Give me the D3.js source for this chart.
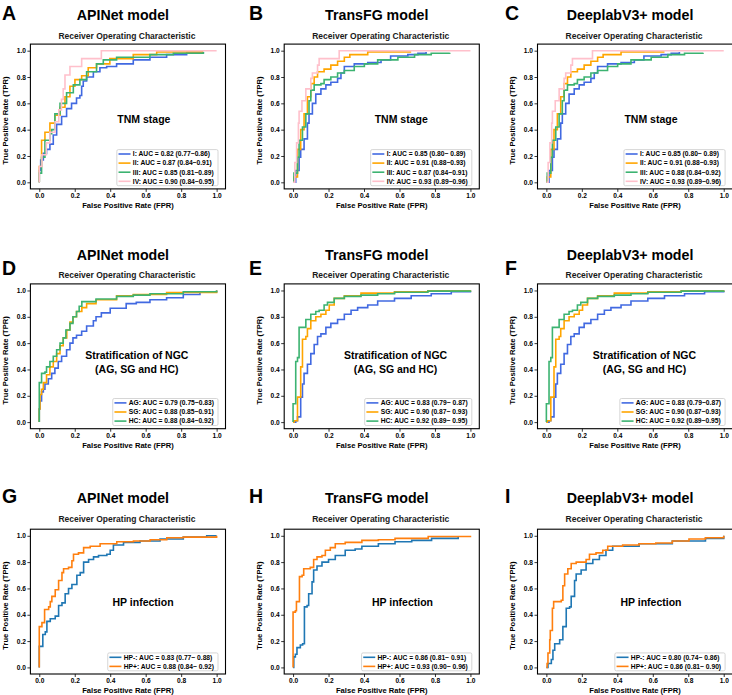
<!DOCTYPE html>
<html>
	<head>
		<meta charset="utf-8">
		<title>ROC curves of the three models</title>
		<script src="https://d3js.org/d3.v7.min.js"></script>
		<style>
			body { margin: 0; background: #ffffff; }
			svg { display: block; }
		</style>
	</head>
	<body>
		<svg id="fig" width="732" height="695"></svg>
		<script>
			/* data: [FPR, TPR] corner points of each ROC curve */

			// row 1 - TNM stage
			var rocA_I = [[0,0],[0,0.09],[0.008,0.17],[0.023,0.22],[0.041,0.25],[0.06,0.29],[0.079,0.36],[0.098,0.44],[0.126,0.50],[0.154,0.56],[0.182,0.60],[0.21,0.64],[0.229,0.66],[0.239,0.73],[0.248,0.77],[0.267,0.80],[0.305,0.84],[0.342,0.87],[0.38,0.88],[0.436,0.90],[0.53,0.93],[0.624,0.95],[0.718,0.97],[0.831,0.985],[0.925,0.99]];
			var rocA_II = [[0,0],[0,0.12],[0.013,0.32],[0.032,0.38],[0.06,0.45],[0.088,0.51],[0.117,0.57],[0.145,0.65],[0.173,0.73],[0.201,0.78],[0.239,0.81],[0.276,0.87],[0.323,0.90],[0.398,0.94],[0.53,0.97],[0.662,0.99],[0.925,0.99]];
			var rocA_III = [[0,0],[0,0.07],[0.013,0.19],[0.032,0.32],[0.06,0.37],[0.07,0.40],[0.088,0.52],[0.117,0.60],[0.154,0.68],[0.192,0.74],[0.229,0.78],[0.267,0.84],[0.323,0.90],[0.361,0.93],[0.436,0.95],[0.624,0.97],[0.756,0.98],[0.925,0.99]];
			var rocA_IV = [[0,0],[0,0.12],[0.015,0.21],[0.04,0.30],[0.06,0.38],[0.089,0.46],[0.11,0.55],[0.125,0.63],[0.135,0.71],[0.145,0.815],[0.173,0.88],[0.239,0.94],[0.35,1],[1,1]];

			var rocB_I = [[0,0],[0.015,0.09],[0.034,0.19],[0.043,0.25],[0.062,0.33],[0.081,0.45],[0.09,0.52],[0.109,0.60],[0.128,0.67],[0.157,0.71],[0.185,0.74],[0.213,0.76],[0.251,0.79],[0.27,0.83],[0.289,0.88],[0.345,0.90],[0.421,0.91],[0.496,0.93],[0.55,0.96],[0.647,0.97],[0.704,0.98],[0.75,0.99]];
			var rocB_II = [[0,0],[0.005,0.04],[0.025,0.25],[0.043,0.40],[0.062,0.52],[0.081,0.65],[0.1,0.75],[0.119,0.80],[0.138,0.84],[0.175,0.86],[0.213,0.89],[0.251,0.92],[0.289,0.95],[0.32,0.97],[0.421,0.99],[0.666,0.99]];
			var rocB_III = [[0,0],[0.005,0.07],[0.025,0.19],[0.034,0.32],[0.053,0.42],[0.072,0.52],[0.09,0.62],[0.1,0.70],[0.119,0.74],[0.157,0.75],[0.175,0.78],[0.213,0.80],[0.251,0.83],[0.289,0.85],[0.345,0.88],[0.402,0.90],[0.477,0.93],[0.591,0.95],[0.685,0.97],[0.779,0.98],[0.883,0.985]];
			var rocB_IV = [[0,0],[0.01,0.15],[0.02,0.30],[0.03,0.45],[0.034,0.54],[0.05,0.62],[0.072,0.71],[0.1,0.79],[0.109,0.83],[0.138,0.89],[0.147,0.94],[0.26,1],[1,1]];

			// row 2 - stratification of NGC
			var rocD_AG = [[0,0],[0,0.10],[0.004,0.16],[0.013,0.23],[0.023,0.25],[0.032,0.29],[0.051,0.33],[0.07,0.37],[0.088,0.41],[0.107,0.46],[0.126,0.50],[0.154,0.55],[0.173,0.60],[0.19,0.64],[0.21,0.66],[0.239,0.69],[0.267,0.73],[0.305,0.77],[0.32,0.80],[0.35,0.83],[0.40,0.865],[0.49,0.90],[0.547,0.91],[0.624,0.93],[0.718,0.945],[0.812,0.97],[0.906,0.99],[1,1]];
			var rocD_SG = [[0,0],[0,0.10],[0.004,0.21],[0.013,0.25],[0.023,0.30],[0.041,0.36],[0.06,0.42],[0.079,0.46],[0.098,0.52],[0.117,0.58],[0.135,0.64],[0.155,0.70],[0.173,0.76],[0.19,0.80],[0.21,0.84],[0.24,0.87],[0.267,0.90],[0.32,0.93],[0.436,0.96],[0.53,0.97],[0.718,0.985],[1,1]];
			var rocD_HC = [[0,0],[0,0.18],[0,0.30],[0.013,0.37],[0.032,0.38],[0.041,0.42],[0.06,0.46],[0.079,0.50],[0.098,0.55],[0.117,0.60],[0.135,0.64],[0.15,0.70],[0.173,0.75],[0.19,0.80],[0.21,0.84],[0.225,0.88],[0.24,0.915],[0.32,0.935],[0.436,0.955],[0.53,0.965],[0.624,0.975],[0.812,0.99],[1,1]];

			var rocE_AG = [[0,0],[0.015,0.01],[0.025,0.04],[0.043,0.19],[0.053,0.29],[0.062,0.37],[0.081,0.44],[0.1,0.52],[0.119,0.59],[0.138,0.65],[0.157,0.67],[0.185,0.72],[0.213,0.75],[0.251,0.78],[0.289,0.82],[0.327,0.85],[0.364,0.87],[0.421,0.89],[0.477,0.92],[0.572,0.94],[0.666,0.96],[0.779,0.975],[0.892,0.99],[1,1]];
			var rocE_SG = [[0,0],[0.005,0.01],[0.025,0.19],[0.043,0.42],[0.053,0.63],[0.072,0.65],[0.081,0.71],[0.1,0.77],[0.128,0.80],[0.157,0.82],[0.185,0.85],[0.204,0.89],[0.232,0.94],[0.289,0.96],[0.383,0.98],[0.572,0.99],[0.76,0.997],[1,1]];
			var rocE_HC = [[0,0],[0,0.14],[0.015,0.46],[0.025,0.49],[0.034,0.72],[0.062,0.72],[0.072,0.78],[0.1,0.82],[0.128,0.84],[0.147,0.85],[0.175,0.89],[0.194,0.91],[0.232,0.94],[0.289,0.955],[0.383,0.965],[0.477,0.975],[0.572,0.987],[0.76,0.995],[1,1]];

			// row 3 - HP infection
			var rocG_neg = [[0,0],[0,0.16],[0.015,0.16],[0.02,0.25],[0.034,0.27],[0.043,0.35],[0.062,0.37],[0.09,0.39],[0.109,0.47],[0.128,0.49],[0.146,0.56],[0.165,0.60],[0.184,0.63],[0.212,0.70],[0.231,0.72],[0.25,0.80],[0.278,0.82],[0.306,0.84],[0.334,0.85],[0.381,0.86],[0.4,0.89],[0.418,0.93],[0.475,0.95],[0.568,0.96],[0.681,0.975],[0.812,0.99],[0.944,1],[1,1]];
			var rocG_pos = [[0,0],[0,0.31],[0.015,0.34],[0.03,0.44],[0.053,0.46],[0.062,0.50],[0.071,0.54],[0.09,0.59],[0.109,0.66],[0.128,0.72],[0.137,0.75],[0.165,0.76],[0.184,0.81],[0.193,0.86],[0.221,0.87],[0.25,0.91],[0.287,0.92],[0.343,0.94],[0.437,0.955],[0.531,0.96],[0.625,0.97],[0.719,0.985],[0.812,0.99],[1,1]];

			var rocH_neg = [[0,0],[0.004,0.08],[0.013,0.10],[0.022,0.15],[0.041,0.17],[0.054,0.18],[0.064,0.46],[0.079,0.47],[0.088,0.56],[0.107,0.65],[0.116,0.74],[0.135,0.77],[0.163,0.80],[0.2,0.82],[0.238,0.85],[0.294,0.89],[0.35,0.90],[0.388,0.92],[0.481,0.94],[0.575,0.955],[0.669,0.965],[0.781,0.98],[0.931,0.99]];
			var rocH_pos = [[0,0],[0,0.42],[0.013,0.43],[0.019,0.50],[0.036,0.69],[0.051,0.70],[0.06,0.75],[0.097,0.76],[0.116,0.82],[0.135,0.84],[0.163,0.85],[0.182,0.89],[0.21,0.91],[0.238,0.94],[0.294,0.95],[0.388,0.965],[0.481,0.97],[0.575,0.98],[0.762,0.995],[1,1]];

			var rocI_neg = [[0,0],[0.009,0.03],[0.028,0.06],[0.037,0.13],[0.047,0.18],[0.075,0.21],[0.093,0.31],[0.112,0.45],[0.131,0.46],[0.14,0.54],[0.159,0.66],[0.168,0.71],[0.196,0.74],[0.224,0.79],[0.262,0.82],[0.299,0.85],[0.336,0.89],[0.374,0.92],[0.523,0.94],[0.71,0.96],[0.897,0.98],[1,1]];
			var rocI_pos = [[0,0],[0.004,0.03],[0.009,0.11],[0.019,0.21],[0.022,0.28],[0.034,0.45],[0.041,0.50],[0.084,0.51],[0.093,0.62],[0.103,0.71],[0.121,0.75],[0.14,0.79],[0.168,0.80],[0.224,0.82],[0.243,0.86],[0.28,0.87],[0.318,0.89],[0.346,0.92],[0.43,0.93],[0.523,0.94],[0.617,0.945],[0.71,0.96],[0.804,0.975],[0.897,0.985],[1,1]];

			// legend texts
			var legendA = ["I: AUC = 0.82 (0.77~0.86)", "II: AUC = 0.87 (0.84~0.91)", "III: AUC = 0.85 (0.81~0.89)", "IV: AUC = 0.90 (0.84~0.95)"];
			var legendB = ["I: AUC = 0.85 (0.80~ 0.89)", "II: AUC = 0.91 (0.88~0.93)", "III: AUC = 0.87 (0.84~0.91)", "IV: AUC = 0.93 (0.89~0.96)"];
			var legendC = ["I: AUC = 0.85 (0.80~ 0.89)", "II: AUC = 0.91 (0.88~0.93)", "III: AUC = 0.88 (0.84~0.92)", "IV: AUC = 0.93 (0.89~0.96)"];
			var legendD = ["AG: AUC = 0.79 (0.75~0.83)", "SG: AUC = 0.88 (0.85~0.91)", "HC: AUC = 0.88 (0.84~0.92)"];
			var legendE = ["AG: AUC = 0.83 (0.79~ 0.87)", "SG: AUC = 0.90 (0.87~ 0.93)", "HC: AUC = 0.92 (0.89~ 0.95)"];
			var legendF = ["AG: AUC = 0.83 (0.79~0.87)", "SG: AUC = 0.90 (0.87~0.93)", "HC: AUC = 0.92 (0.89~0.95)"];
			var legendG = ["HP-: AUC = 0.83 (0.77~ 0.88)", "HP+: AUC = 0.88 (0.84~ 0.92)"];
			var legendH = ["HP-: AUC = 0.86 (0.81~ 0.91)", "HP+: AUC = 0.93 (0.90~ 0.96)"];
			var legendI = ["HP-: AUC = 0.80 (0.74~ 0.86)", "HP+: AUC = 0.86 (0.81~ 0.90)"];

			var modelNames = ["APINet model", "TransFG model", "DeeplabV3+ model"];
			var taskNotes = [["TNM stage"], ["Stratification of NGC", "(AG, SG and HC)"], ["HP infection"]];
			var tickValues = [0, 0.2, 0.4, 0.6, 0.8, 1.0];

			/* layout */
			var svg = d3.select("#fig");
			var font = '"Liberation Sans", Arial, Helvetica, sans-serif';
			var colLeft = [30.4, 284.2, 537.5];
			var rowTop = [44.1, 283.9, 529.2];
			var boxW = 195.1, boxH = 144.8;
			var letterX = [2, 249, 505];
			var letterY = [19.5, 275, 503];
			var titleY = [20, 260, 503];
			var subY = [39, 278.4, 522.2];

			var colors4 = ["royalblue", "orange", "mediumseagreen", "pink"];
			var colors3 = ["royalblue", "orange", "mediumseagreen"];
			var colors2 = ["#1f77b4", "#ff7f0e"];

			var panels = [
				{letter: "A", col: 0, row: 0, curves: [rocA_I, rocA_II, rocA_III, rocA_IV], labels: legendA, colors: colors4, note: [0.59, 0.45]},
				{letter: "B", col: 1, row: 0, curves: [rocB_I, rocB_II, rocB_III, rocB_IV], labels: legendB, colors: colors4, note: [0.61, 0.45]},
				{letter: "C", col: 2, row: 0, curves: [rocB_I, rocB_II, rocB_III, rocB_IV], labels: legendC, colors: colors4, note: [0.59, 0.45]},
				{letter: "D", col: 0, row: 1, curves: [rocD_AG, rocD_SG, rocD_HC], labels: legendD, colors: colors3, note: [0.55, 0.48]},
				{letter: "E", col: 1, row: 1, curves: [rocE_AG, rocE_SG, rocE_HC], labels: legendE, colors: colors3, note: [0.578, 0.48]},
				{letter: "F", col: 2, row: 1, curves: [rocE_AG, rocE_SG, rocE_HC], labels: legendF, colors: colors3, note: [0.553, 0.48]},
				{letter: "G", col: 0, row: 2, curves: [rocG_neg, rocG_pos], labels: legendG, colors: colors2, note: [0.585, 0.47]},
				{letter: "H", col: 1, row: 2, curves: [rocH_neg, rocH_pos], labels: legendH, colors: colors2, note: [0.617, 0.47]},
				{letter: "I", col: 2, row: 2, curves: [rocI_neg, rocI_pos], labels: legendI, colors: colors2, note: [0.59, 0.47]}
			];

			function drawPanel(p) {
				var left = colLeft[p.col], top = rowTop[p.row];
				var x = d3.scaleLinear().domain([-0.05, 1.05]).range([left, left + boxW]);
				var y = d3.scaleLinear().domain([-0.05, 1.05]).range([top + boxH, top]);
				var g = svg.append("g").attr("font-family", font);

				// panel letter and titles
				g.append("text")
				.attr("x", letterX[p.col])
				.attr("y", letterY[p.row])
				.attr("font-size", 19.5)
				.attr("font-weight", "bold")
				.text(p.letter);

				g.append("text")
				.attr("x", left + boxW / 2 - 5)
				.attr("y", titleY[p.row])
				.attr("text-anchor", "middle")
				.attr("font-size", 14.2)
				.attr("font-weight", "bold")
				.text(modelNames[p.col]);

				g.append("text")
				.attr("x", left + boxW / 2 - 1)
				.attr("y", subY[p.row])
				.attr("text-anchor", "middle")
				.attr("font-size", 8.5)
				.attr("font-weight", "bold")
				.attr("fill", "#1a1a1a")
				.text("Receiver Operating Characteristic");

				// axes
				var xAxis = g.append("g")
				.attr("transform", "translate(0," + (top + boxH) + ")")
				.call(d3.axisBottom(x).tickValues(tickValues).tickFormat(d3.format(".1f")).tickSize(3).tickPadding(1.5));
				var yAxis = g.append("g")
				.attr("transform", "translate(" + left + ",0)")
				.call(d3.axisLeft(y).tickValues(tickValues).tickFormat(d3.format(".1f")).tickSize(3).tickPadding(1.5));
				[xAxis, yAxis].forEach(function(a) {
					a.attr("font-family", font).attr("font-size", 6.6).attr("font-weight", "bold");
					a.select(".domain").remove();
					a.selectAll("line").attr("stroke", "#000").attr("stroke-width", 0.8);
				});

				g.append("text")
				.attr("x", left + boxW / 2)
				.attr("y", top + boxH + 19)
				.attr("text-anchor", "middle")
				.attr("font-size", 7.6)
				.attr("font-weight", "bold")
				.text("False Positive Rate (FPR)");

				g.append("text")
				.attr("transform", "translate(" + (left - 22.6) + "," + (top + boxH / 2 + 4) + ") rotate(-90)")
				.attr("text-anchor", "middle")
				.attr("font-size", 7.6)
				.attr("font-weight", "bold")
				.text("True Positive Rate (TPR)");

				// ROC curves
				var line = d3.line()
				.x(function(d) { return x(d[0]); })
				.y(function(d) { return y(d[1]); })
				.curve(d3.curveStepAfter);

				p.curves.forEach(function(c, i) {
					g.append("path")
					.datum(c)
					.attr("d", line)
					.attr("fill", "none")
					.attr("stroke", p.colors[i])
					.attr("stroke-width", 1.6);
				});

				// frame
				g.append("rect")
				.attr("x", left)
				.attr("y", top)
				.attr("width", boxW)
				.attr("height", boxH)
				.attr("fill", "none")
				.attr("stroke", "#000")
				.attr("stroke-width", 1.1);

				// task note in the middle of the plot
				var notes = taskNotes[p.row];
				notes.forEach(function(t, i) {
					g.append("text")
					.attr("x", x(p.note[0]))
					.attr("y", y(p.note[1]) + i * 14.5)
					.attr("text-anchor", "middle")
					.attr("font-size", 10.5)
					.attr("font-weight", "bold")
					.text(t);
				});

				// legend, lower right
				var n = p.labels.length, rowH = 9.1;
				var lg = g.append("g");
				var box = lg.append("rect");
				var texts = [];
				p.labels.forEach(function(t, i) {
					var yy = i * rowH;
					lg.append("line")
					.attr("x1", 1.7).attr("x2", 13.7)
					.attr("y1", yy).attr("y2", yy)
					.attr("stroke", p.colors[i])
					.attr("stroke-width", 1.6);
					texts.push(lg.append("text")
					.attr("x", 16)
					.attr("y", yy)
					.attr("dy", "0.35em")
					.attr("font-size", 6.7)
					.attr("font-weight", "bold")
					.text(t));
				});
				var maxW = d3.max(texts, function(t) { return t.node().getComputedTextLength(); });
				var w = 16 + maxW + 4, h = 8.8 + (n - 1) * rowH;
				box.attr("x", 0).attr("y", -4.4)
				.attr("width", w).attr("height", h)
				.attr("rx", 1.5)
				.attr("fill", "#fff")
				.attr("fill-opacity", 0.8)
				.attr("stroke", "#ccc")
				.attr("stroke-width", 0.8);
				lg.attr("transform", "translate(" + (left + boxW - 7.5 - w) + "," + (top + boxH - 3.2 - h + 4.4) + ")");
			}

			panels.forEach(drawPanel);
		</script>
	</body>
</html>
